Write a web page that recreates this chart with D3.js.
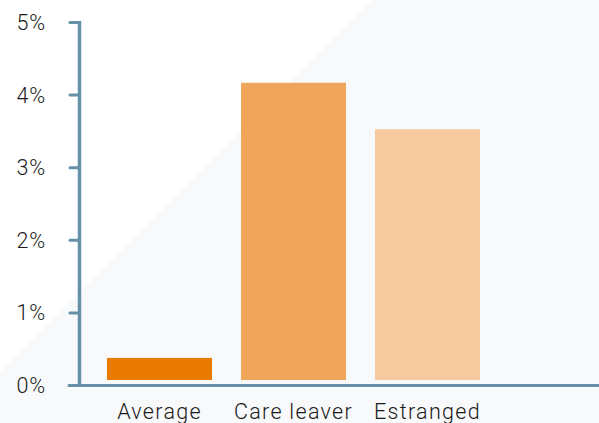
<!DOCTYPE html>
<html><head><meta charset="utf-8">
<script src="https://cdn.jsdelivr.net/npm/d3@7"></script>
<style>
html,body{margin:0;padding:0;background:#fff;}
svg{display:block;}
text{font-family:Roboto,"Liberation Sans",Arial,sans-serif;font-weight:300;font-size:21.5px;fill:#1a1a1a;letter-spacing:1.3px;}
</style></head>
<body>
<svg id="c" width="599" height="423"></svg>
<script>
const categories = ["Average", "Care leaver", "Estranged"];
const values = [0.38, 4.17, 3.53];
const colors = ["#e87b00", "#f0a65a", "#f8caa0"];
const yTicks = [0, 1, 2, 3, 4, 5];
const tickLabels = ["0%", "1%", "2%", "3%", "4%", "5%"];

const W = 599, H = 423;
const svg = d3.select("#c");
const axisColor = "#6690a8";

// background diagonal shading
svg.append("polygon")
  .attr("points", `372,0 ${W},0 ${W},${H} 0,${H} 0,372`)
  .attr("fill", "#f8f9fb");

const y = d3.scaleLinear().domain([0, 5]).range([385.5, 22.5]);
const x = d3.scaleBand().domain(categories).range([92.5, 494.5])
  .paddingInner(0.2164).paddingOuter(0.1082);

// bars
svg.append("g").selectAll("rect").data(categories).join("rect")
  .attr("x", d => x(d))
  .attr("width", x.bandwidth())
  .attr("y", (d, i) => y(values[i]))
  .attr("height", (d, i) => (y(0) - 5.5) - y(values[i]))
  .attr("fill", (d, i) => colors[i]);

// y axis
const ya = svg.append("g");
ya.append("line").attr("x1", 79.5).attr("x2", 79.5).attr("y1", y(5) - 1.5).attr("y2", y(0) + 1.5)
  .attr("stroke", axisColor).attr("stroke-width", 3.5);
ya.selectAll("line.t").data(yTicks).join("line").attr("class", "t")
  .attr("x1", 70).attr("x2", 79.5).attr("y1", d => y(d)).attr("y2", d => y(d))
  .attr("stroke", axisColor).attr("stroke-width", 3).attr("stroke-linecap", "round");
ya.selectAll("text").data(yTicks).join("text")
  .attr("x", 46).attr("y", d => y(d)).attr("dy", "0.35em")
  .attr("text-anchor", "end").style("letter-spacing", "0.8px")
  .text((d, i) => tickLabels[i]);

// x axis
svg.append("line").attr("x1", 69).attr("x2", W).attr("y1", y(0)).attr("y2", y(0))
  .attr("stroke", axisColor).attr("stroke-width", 3).attr("stroke-linecap", "round");
svg.append("g").selectAll("text").data(categories).join("text")
  .attr("x", d => x(d) + x.bandwidth() / 2)
  .attr("y", 419)
  .attr("text-anchor", "middle")
  .text(d => d);
</script>
</body></html>
